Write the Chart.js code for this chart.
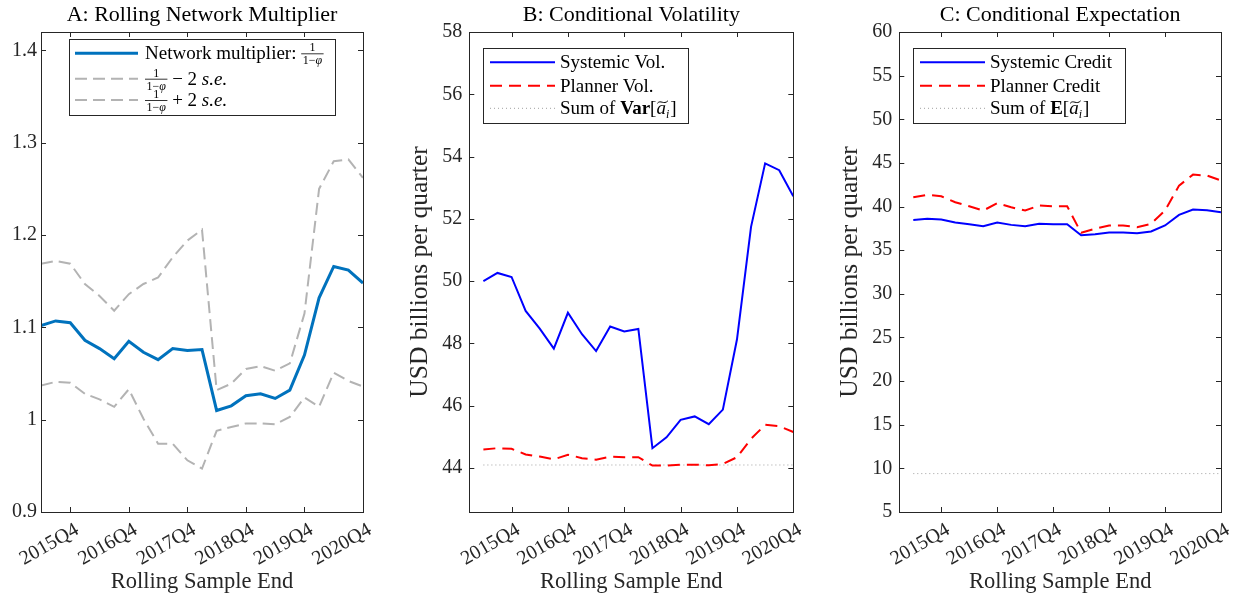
<!DOCTYPE html>
<html><head><meta charset="utf-8">
<script src="https://cdn.jsdelivr.net/npm/chart.js@4.4.1/dist/chart.umd.min.js"></script>
<style>
body{margin:0;background:#fff;width:1239px;height:598px;overflow:hidden;position:relative}
canvas{position:absolute;top:0}
</style></head><body>
<canvas id="cA" width="400" height="598" style="left:0px"></canvas>
<canvas id="cB" width="430" height="598" style="left:400px"></canvas>
<canvas id="cC" width="409" height="598" style="left:830px"></canvas>
<script>
// ---------- DATA ----------
const quarters = ['2015Q2','2015Q3','2015Q4','2016Q1','2016Q2','2016Q3','2016Q4','2017Q1','2017Q2','2017Q3','2017Q4','2018Q1','2018Q2','2018Q3','2018Q4','2019Q1','2019Q2','2019Q3','2019Q4','2020Q1','2020Q2','2020Q3','2020Q4'];
const tickQuarters = ['2015Q4','2016Q4','2017Q4','2018Q4','2019Q4','2020Q4'];

const multiplier = [1.102,1.107,1.105,1.086,1.077,1.066,1.085,1.073,1.065,1.077,1.075,1.076,1.010,1.015,1.026,1.028,1.023,1.032,1.070,1.132,1.166,1.162,1.148];
const multLower  = [1.037,1.041,1.040,1.028,1.022,1.014,1.033,1.001,0.974,0.974,0.956,0.947,0.988,0.992,0.996,0.996,0.995,1.003,1.024,1.014,1.051,1.042,1.036];
const multUpper  = [1.169,1.172,1.169,1.147,1.134,1.118,1.136,1.147,1.154,1.176,1.194,1.206,1.032,1.039,1.055,1.058,1.053,1.061,1.115,1.250,1.280,1.282,1.262];

const systemicVol = [50.00,50.26,50.13,49.04,48.47,47.83,48.98,48.29,47.75,48.54,48.38,48.46,44.63,44.98,45.54,45.65,45.40,45.87,48.12,51.74,53.78,53.56,52.72];
const plannerVol  = [44.59,44.63,44.61,44.43,44.36,44.27,44.42,44.31,44.26,44.36,44.34,44.34,44.07,44.07,44.10,44.10,44.08,44.12,44.34,44.93,45.38,45.34,45.15];
const sumVar      = [44.09,44.09,44.09,44.09,44.09,44.09,44.09,44.09,44.09,44.09,44.09,44.09,44.09,44.09,44.09,44.09,44.09,44.09,44.09,44.09,44.09,44.09,44.09];

const systemicCredit = [38.47,38.59,38.51,38.17,37.97,37.74,38.17,37.90,37.74,38.02,37.97,37.97,36.72,36.83,37.02,37.02,36.94,37.14,37.83,39.05,39.66,39.58,39.35];
const plannerCredit  = [41.07,41.34,41.18,40.49,40.03,39.54,40.38,39.92,39.54,40.11,40.04,40.04,36.99,37.45,37.83,37.83,37.63,38.02,39.54,42.40,43.66,43.55,42.98];
const sumExp         = [9.4,9.4,9.4,9.4,9.4,9.4,9.4,9.4,9.4,9.4,9.4,9.4,9.4,9.4,9.4,9.4,9.4,9.4,9.4,9.4,9.4,9.4,9.4];

const yTicksA = [0.9,1,1.1,1.2,1.3,1.4];
const yTicksB = [44,46,48,50,52,54,56,58];
const yTicksC = [5,10,15,20,25,30,35,40,45,50,55,60];

// ---------- STYLE ----------
const FF = '"Liberation Serif","Times New Roman",serif';
const TXT = '#262626';
const pts = arr => arr.map((y,i)=>({x:i,y:y}));

const axesPlugin = {
  id:'mlAxes',
  afterDraw(chart){
    const {ctx, chartArea:a, scales:{x,y}} = chart;
    ctx.save();
    ctx.strokeStyle = TXT; ctx.lineWidth = 1;
    const L = 5;
    ctx.beginPath();
    x.ticks.forEach(t=>{
      const px = Math.round(x.getPixelForValue(t.value))+0.5;
      ctx.moveTo(px,a.bottom); ctx.lineTo(px,a.bottom-L);
      ctx.moveTo(px,a.top); ctx.lineTo(px,a.top+L);
    });
    y.ticks.forEach(t=>{
      const py = Math.round(y.getPixelForValue(t.value))+0.5;
      ctx.moveTo(a.left,py); ctx.lineTo(a.left+L,py);
      ctx.moveTo(a.right,py); ctx.lineTo(a.right-L,py);
    });
    ctx.stroke();
    ctx.strokeRect(Math.round(a.left)+0.5, Math.round(a.top)+0.5, Math.round(a.width), Math.round(a.height));
    ctx.restore();
  }
};

const fN = `19px ${FF}`, fI = `italic 19px ${FF}`, fB = `bold 19px ${FF}`, fS = `12px ${FF}`, fSI = `italic 12px ${FF}`;

function drawSegs(ctx, x, rowY, segs){
  const base = rowY + 6;
  ctx.fillStyle = '#000';
  ctx.textBaseline = 'alphabetic';
  ctx.textAlign = 'left';
  for (const s of segs){
    if (s.frac){
      ctx.font = fS;
      const wn = ctx.measureText(s.num).width;
      const w1 = ctx.measureText('1−').width;
      ctx.font = fSI; const w2 = ctx.measureText('φ').width;
      const wd = w1 + w2;
      const W = wd + 3;
      const bar = rowY + 0.5;
      ctx.font = fS; ctx.fillText(s.num, x + (W-wn)/2, bar - 2.5);
      ctx.fillText('1−', x + (W-wd)/2, bar + 10.5);
      ctx.font = fSI; ctx.fillText('φ', x + (W-wd)/2 + w1, bar + 10.5);
      ctx.save(); ctx.strokeStyle='#000'; ctx.lineWidth=0.8;
      ctx.beginPath(); ctx.moveTo(x, bar); ctx.lineTo(x+W, bar); ctx.stroke(); ctx.restore();
      x += W;
    } else if (s.atilde){
      ctx.font = fI;
      const wa = ctx.measureText('a').width;
      ctx.fillText('a', x, base);
      ctx.save(); ctx.strokeStyle='#000'; ctx.lineWidth=1;
      const tx = x + 1, ty = base - 12.5, tw = wa + 1;
      ctx.beginPath(); ctx.moveTo(tx, ty+1.5);
      ctx.bezierCurveTo(tx+tw*0.3, ty-2.5, tx+tw*0.6, ty+3.5, tx+tw, ty-1);
      ctx.stroke(); ctx.restore();
      x += wa;
      ctx.font = fSI; ctx.fillText('i', x, base + 4);
      x += ctx.measureText('i').width + 1;
    } else {
      ctx.font = s.f || fN;
      ctx.fillText(s.s, x, base);
      x += ctx.measureText(s.s).width;
    }
  }
}

const legendPlugin = {
  id:'mlLegend',
  afterDraw(chart, args, opts){
    const {ctx} = chart;
    const [x0,y0,x1,y1] = opts.box;
    ctx.save();
    ctx.fillStyle = '#fff';
    ctx.fillRect(x0,y0,x1-x0,y1-y0);
    ctx.strokeStyle = TXT; ctx.lineWidth = 1;
    ctx.strokeRect(Math.round(x0)+0.5, Math.round(y0)+0.5, Math.round(x1-x0), Math.round(y1-y0));
    opts.rows.forEach((r,i)=>{
      const ds = chart.data.datasets[i];
      ctx.save();
      ctx.strokeStyle = ds.borderColor; ctx.lineWidth = ds.borderWidth;
      ctx.setLineDash(ds.borderDash || []);
      ctx.beginPath(); ctx.moveTo(opts.sample[0], r.y); ctx.lineTo(opts.sample[1], r.y); ctx.stroke();
      ctx.restore();
      drawSegs(ctx, opts.textX, r.y, r.segs);
    });
    ctx.restore();
  }
};

function makeChart(id, c){
  return new Chart(document.getElementById(id), {
    type:'line',
    data:{ datasets: c.datasets },
    options:{
      responsive:false, animation:false,
      layout:{ padding:{ left:0, right:c.padRight, top:0, bottom:0 } },
      elements:{ point:{ radius:0 }, line:{ tension:0 } },
      plugins:{
        legend:{ display:false }, tooltip:{ enabled:false },
        title:{ display:true, fullSize:false, text:c.title, color:'#000',
                font:{ family:FF, size:22, weight:'normal', lineHeight:1.2 }, padding:{ top:2, bottom:3.6 } },
        mlLegend: c.legend
      },
      scales:{
        x:{ type:'linear', min:c.xmin, max:quarters.length-1,
            grid:{ display:false, drawTicks:false, tickLength:0 }, border:{ display:false },
            afterBuildTicks: s => { s.ticks = tickQuarters.map(q=>({ value: quarters.indexOf(q) })); },
            afterFit: s => { s.height = 86; },
            ticks:{ autoSkip:false, minRotation:30, maxRotation:30, labelOffset:7, padding:6, color:TXT,
                    font:{ family:FF, size:20 }, callback: v => quarters[v] },
            title:{ display:true, text:'Rolling Sample End', color:TXT, font:{ family:FF, size:22.5, lineHeight:1.2 }, padding:{ top:0, bottom:2 } }
        },
        y:{ type:'linear', min:c.ymin, max:c.ymax,
            grid:{ display:false, drawTicks:false, tickLength:0 }, border:{ display:false },
            afterBuildTicks: s => { s.ticks = c.yTicks.map(v=>({ value:v })); },
            afterFit: s => { s.width = c.yw; },
            ticks:{ color:TXT, padding:c.ypad, font:{ family:FF, size:20 }, callback: v => String(v) },
            title:{ display:!!c.ytitle, text:c.ytitle || '', color:TXT, font:{ family:FF, size:25.5, lineHeight:1.2 }, padding:{ top:4.7, bottom:0 } }
        }
      }
    },
    plugins:[axesPlugin, legendPlugin]
  });
}

const grayDash = { borderColor:'#b3b3b3', borderWidth:2, borderDash:[12,6] };

makeChart('cA', {
  title:'A: Rolling Network Multiplier', padRight:37, xmin:0, ymin:0.9, ymax:1.42, yTicks:yTicksA, yw:41, ypad:4,
  datasets:[
    { data:pts(multiplier), borderColor:'#0072BD', borderWidth:3 },
    Object.assign({ data:pts(multLower) }, grayDash),
    Object.assign({ data:pts(multUpper) }, grayDash)
  ],
  legend:{ box:[68.7,39.3,335,115.7], sample:[75,138], textX:145, rows:[
    { y:53.3, segs:[ {s:'Network multiplier: '}, {frac:true, num:'1'} ] },
    { y:78.7, segs:[ {frac:true, num:'1'}, {s:' − 2 '}, {s:'s.e.', f:fI} ] },
    { y:100,  segs:[ {frac:true, num:'1'}, {s:' + 2 '}, {s:'s.e.', f:fI} ] }
  ]}
});

const redDash = { borderColor:'#ff0000', borderWidth:2, borderDash:[12,7] };
const dotGray = { borderColor:'#a0a0a0', borderWidth:1, borderDash:[1,3] };

makeChart('cB', {
  title:'B: Conditional Volatility', padRight:36.7, xmin:-1, ymin:42.58, ymax:58, yTicks:yTicksB, yw:69.3, ypad:7,
  ytitle:'USD billions per quarter',
  datasets:[
    { data:pts(systemicVol), borderColor:'#0000ff', borderWidth:2 },
    Object.assign({ data:pts(plannerVol) }, redDash),
    Object.assign({ data:pts(sumVar) }, dotGray)
  ],
  legend:{ box:[83.3,48.3,288.3,123.3], sample:[90,155], textX:160, rows:[
    { y:62.3, segs:[ {s:'Systemic Vol.'} ] },
    { y:85.7, segs:[ {s:'Planner Vol.'} ] },
    { y:108.3, segs:[ {s:'Sum of '}, {s:'Var', f:fB}, {s:'['}, {atilde:true}, {s:']'} ] }
  ]}
});

makeChart('cC', {
  title:'C: Conditional Expectation', padRight:16.3, xmin:-1, ymin:5, ymax:60, yTicks:yTicksC, yw:69.3, ypad:7,
  ytitle:'USD billions per quarter',
  datasets:[
    { data:pts(systemicCredit), borderColor:'#0000ff', borderWidth:2 },
    Object.assign({ data:pts(plannerCredit) }, redDash),
    Object.assign({ data:pts(sumExp) }, dotGray)
  ],
  legend:{ box:[83.3,48.3,295.7,123.3], sample:[90,155], textX:160, rows:[
    { y:62.3, segs:[ {s:'Systemic Credit'} ] },
    { y:85.7, segs:[ {s:'Planner Credit'} ] },
    { y:108.3, segs:[ {s:'Sum of '}, {s:'E', f:fB}, {s:'['}, {atilde:true}, {s:']'} ] }
  ]}
});
</script>
</body></html>
